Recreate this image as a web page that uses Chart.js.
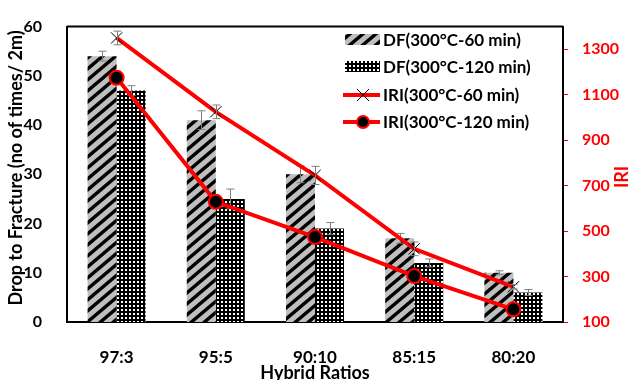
<!DOCTYPE html>
<html>
<head>
<meta charset="utf-8">
<script src="https://cdn.jsdelivr.net/npm/chart.js@4.4.0/dist/chart.umd.min.js"></script>
<style>
html, body { margin: 0; padding: 0; background: #fff; }
#wrap { width: 632px; height: 380px; position: relative; }
</style>
</head>
<body>
<div id="wrap"><canvas id="chart"></canvas></div>
<script>
const ratios = ['97:3', '95:5', '90:10', '85:15', '80:20'];
const df60 = [54, 41, 30, 17, 10];
const df60Err = [1, 1.9, 1.7, 1, 0.4];
const df120 = [47, 25, 19, 12, 6];
const df120Err = [1, 2, 1.2, 0.8, 0.6];
const iri60 = [1350, 1025, 745, 422, 255];
const iri60Err = [30, 30, 40, 30, 10];
const iri120 = [1175, 629, 474, 302, 156];
const iriTicks = [100, 300, 500, 700, 900, 1100, 1300];

const FONT = 'Lato';

function stripePattern() {
    const w = 13, h = 11;
    const c = document.createElement('canvas');
    c.width = w; c.height = h;
    const g = c.getContext('2d');
    g.fillStyle = '#bfbfbf';
    g.fillRect(0, 0, w, h);
    g.strokeStyle = '#000';
    g.lineWidth = 3.4;
    for (let k = -1; k <= 1; k++) {
        g.beginPath();
        g.moveTo(-w, 2 * h + k * h);
        g.lineTo(2 * w, -h + k * h);
        g.stroke();
    }
    return g.createPattern(c, 'repeat');
}

function dotPattern() {
    const c = document.createElement('canvas');
    c.width = 4; c.height = 4;
    const g = c.getContext('2d');
    g.fillStyle = '#000';
    g.fillRect(0, 0, 4, 4);
    g.fillStyle = '#fff';
    g.fillRect(1, 1, 2, 2);
    return g.createPattern(c, 'repeat');
}

const stripes = stripePattern();
const dots = dotPattern();

// error bars drawn right after each dataset, using its own scale
const errorBars = {
    id: 'errorBars',
    afterDatasetDraw(chart, args) {
        const ds = chart.data.datasets[args.index];
        if (!ds.errors) return;
        const meta = args.meta;
        const scale = chart.scales[meta.yAxisID];
        const c = chart.ctx;
        c.save();
        c.strokeStyle = '#7f7f7f';
        c.lineWidth = 1;
        meta.data.forEach((el, i) => {
            const v = ds.data[i], e = ds.errors[i];
            const x = Math.round(el.x) + 0.5;
            const y1 = scale.getPixelForValue(v + e);
            const y2 = scale.getPixelForValue(v - e);
            c.beginPath();
            c.moveTo(x, y1); c.lineTo(x, y2);
            c.moveTo(x - 4, y1); c.lineTo(x + 4, y1);
            c.moveTo(x - 4, y2); c.lineTo(x + 4, y2);
            c.stroke();
        });
        c.restore();
    }
};

// frame, axis titles and the legend inside the plot
const decor = {
    id: 'decor',
    afterDraw(chart) {
        const c = chart.ctx;
        const a = chart.chartArea;
        c.save();
        c.strokeStyle = '#000';
        c.lineWidth = 2;
        c.beginPath();
        c.moveTo(a.left, a.top);
        c.lineTo(a.right, a.top);
        c.stroke();

        c.textAlign = 'center';
        c.textBaseline = 'middle';
        c.fillStyle = '#000';
        c.font = `bold 18px ${FONT}`;
        c.save();
        c.translate(16, 168);
        c.rotate(-Math.PI / 2);
        c.fillText('Drop to Fracture (no of times/ 2m)', 0, 0);
        c.restore();
        c.save();
        c.fillStyle = '#ff0000';
        c.translate(622, 177);
        c.rotate(-Math.PI / 2);
        c.fillText('IRI', 0, 0);
        c.restore();
        c.fillText('Hybrid Ratios', 315, 373);

        // legend
        const x0 = a.right - 218;
        const rows = [40, 67, 95, 122];
        chart.data.datasets.forEach((ds, i) => {
            const y = rows[i];
            if (ds.type === 'line') {
                c.strokeStyle = ds.borderColor;
                c.lineWidth = ds.borderWidth;
                c.beginPath();
                c.moveTo(x0 - 2, y); c.lineTo(x0 + 35, y);
                c.stroke();
                if (ds.pointStyle === 'crossRot') {
                    c.strokeStyle = '#000';
                    c.lineWidth = 1;
                    c.beginPath();
                    c.moveTo(x0 + 12, y - 6); c.lineTo(x0 + 24, y + 6);
                    c.moveTo(x0 + 12, y + 6); c.lineTo(x0 + 24, y - 6);
                    c.stroke();
                } else {
                    c.fillStyle = ds.pointBackgroundColor;
                    c.strokeStyle = ds.pointBorderColor;
                    c.lineWidth = 2;
                    c.beginPath();
                    c.arc(x0 + 18, y, 6, 0, Math.PI * 2);
                    c.fill(); c.stroke();
                }
            } else {
                c.fillStyle = ds.backgroundColor;
                c.fillRect(x0, y - 6, 35, 11);
            }
            c.fillStyle = '#000';
            c.textAlign = 'left';
            c.font = `bold 17px ${FONT}`;
            c.fillText(ds.label, x0 + 38, y + 1);
        });
        c.restore();
    }
};

new Chart(document.getElementById('chart'), {
    type: 'bar',
    data: {
        labels: ratios,
        datasets: [
            {
                label: 'DF(300°C-60 min)',
                data: df60,
                errors: df60Err,
                backgroundColor: stripes,
                yAxisID: 'y',
                order: 2,
            },
            {
                label: 'DF(300°C-120 min)',
                data: df120,
                errors: df120Err,
                backgroundColor: dots,
                yAxisID: 'y',
                order: 2,
            },
            {
                type: 'line',
                label: 'IRI(300°C-60 min)',
                data: iri60,
                errors: iri60Err,
                yAxisID: 'y1',
                borderColor: '#ff0000',
                borderWidth: 4,
                pointStyle: 'crossRot',
                pointRadius: 8,
                pointBorderColor: '#000',
                pointBorderWidth: 1,
                order: 1,
            },
            {
                type: 'line',
                label: 'IRI(300°C-120 min)',
                data: iri120,
                yAxisID: 'y1',
                borderColor: '#ff0000',
                borderWidth: 4,
                pointStyle: 'circle',
                pointRadius: 7,
                pointBackgroundColor: '#000',
                pointBorderColor: '#ff0000',
                pointBorderWidth: 2,
                order: 0,
            },
        ],
    },
    options: {
        responsive: true,
        maintainAspectRatio: false,
        animation: false,
        layout: {
            padding: { top: 20, left: 0, right: 0, bottom: 0 },
        },
        plugins: {
            legend: { display: false },
            tooltip: { enabled: false },
        },
        datasets: {
            bar: {
                categoryPercentage: 0.585,
                barPercentage: 1,
            },
        },
        scales: {
            x: {
                grid: { display: false },
                border: { color: '#000', width: 2 },
                ticks: {
                    color: '#000',
                    font: { family: FONT, weight: 'bold', size: 17 },
                    padding: 17,
                },
                afterFit: (s) => { s.height = 58; },
            },
            y: {
                position: 'left',
                min: 0,
                max: 60,
                grid: { display: false },
                border: { color: '#000', width: 2 },
                ticks: {
                    stepSize: 10,
                    color: '#000',
                    font: { family: FONT, weight: 'bold', size: 16 },
                    padding: 17,
                },
                afterFit: (s) => { s.width = 67; },
            },
            y1: {
                position: 'right',
                min: 100,
                max: 1400,
                afterBuildTicks: (s) => { s.ticks = iriTicks.map(v => ({ value: v })); },
                grid: {
                    display: true,
                    drawOnChartArea: false,
                    color: '#ff0000',
                    tickLength: 5,
                },
                border: { color: '#000', width: 2 },
                ticks: {
                    color: '#ff0000',
                    font: { family: FONT, weight: 'bold', size: 16 },
                    padding: 14,
                    callback: (v) => String(v),
                },
                afterFit: (s) => { s.width = 69; },
            },
        },
    },
    plugins: [errorBars, decor],
});
</script>
</body>
</html>
